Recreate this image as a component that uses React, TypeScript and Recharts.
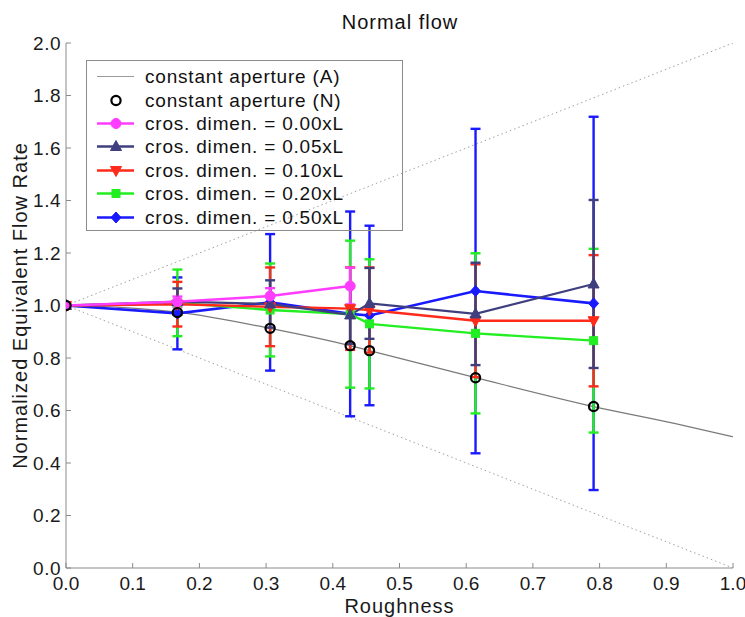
import React from 'react';
import { LineChart, Line, XAxis, YAxis, ErrorBar, Legend } from 'recharts';

// ---- data ----
const roughness = [0, 0.167, 0.306, 0.426, 0.455, 0.614, 0.791];
const xTicks = [0, 0.1, 0.2, 0.3, 0.4, 0.5, 0.6, 0.7, 0.8, 0.9, 1.0];
const yTicks = [0, 0.2, 0.4, 0.6, 0.8, 1.0, 1.2, 1.4, 1.6, 1.8, 2.0];

// constant aperture (A) analytic curve
const analyticX = [0, 0.08, 0.167, 0.306, 0.426, 0.455, 0.614, 0.791, 0.912, 1.0];
const analyticY = [1.0, 0.993, 0.975, 0.913, 0.847, 0.828, 0.725, 0.615, 0.551, 0.5];

// bounds (dotted)
const upperBoundX = [0, 1];
const upperBoundY = [1, 2];
const lowerBoundX = [0, 1];
const lowerBoundY = [1, 0];

// constant aperture (N)
const numericY = [1.0, 0.973, 0.913, 0.847, 0.828, 0.725, 0.615];

// cros. dimen. series
const pinkX = [0, 0.167, 0.306, 0.426];
const pinkY = [1.0, 1.014, 1.036, 1.074];
const pinkErr = [0, 0.02, 0.03, 0.07];

const navyY = [1.0, 1.015, 1.006, 0.964, 1.008, 0.968, 1.082];
const navyErr = [0, 0.05, 0.09, 0.11, 0.135, 0.195, 0.32];

const redY = [1.0, 1.005, 0.995, 0.988, 0.983, 0.942, 0.942];
const redErr = [0, 0.085, 0.15, 0.157, 0.162, 0.215, 0.25];

const greenY = [1.0, 1.01, 0.983, 0.967, 0.93, 0.894, 0.866];
const greenErr = [0, 0.127, 0.177, 0.28, 0.246, 0.305, 0.35];

const blueY = [1.0, 0.97, 1.012, 0.968, 0.962, 1.055, 1.008];
const blueErr = [0, 0.137, 0.26, 0.39, 0.342, 0.618, 0.711];

const legendLabels = [
  'constant aperture (A)',
  'constant aperture (N)',
  'cros. dimen. = 0.00xL',
  'cros. dimen. = 0.05xL',
  'cros. dimen. = 0.10xL',
  'cros. dimen. = 0.20xL',
  'cros. dimen. = 0.50xL',
];

// ---- build tables ----
const zip = (xs: number[], ys: number[], es?: number[]) =>
  xs.map((x, i) => ({ x, y: ys[i], e: es ? es[i] : 0 }));

const analyticData = zip(analyticX, analyticY);
const upperData = zip(upperBoundX, upperBoundY);
const lowerData = zip(lowerBoundX, lowerBoundY);
const numericData = zip(roughness, numericY);
const pinkData = zip(pinkX, pinkY, pinkErr);
const navyData = zip(roughness, navyY, navyErr);
const redData = zip(roughness, redY, redErr);
const greenData = zip(roughness, greenY, greenErr);
const blueData = zip(roughness, blueY, blueErr);

const C = {
  pink: '#ff3cff',
  navy: '#3f3f80',
  red: '#ff2a1a',
  green: '#22ee22',
  blue: '#1a1aff',
  gray: '#7a7a7a',
};

const FONT = 'Arial, "Liberation Sans", Helvetica, sans-serif';

type Shape = 'circle' | 'tri' | 'triDown' | 'square' | 'diamond' | 'hollow';

const marker = (shape: Shape, color: string, cx: number, cy: number, key?: any) => {
  switch (shape) {
    case 'circle':
      return <circle key={key} cx={cx} cy={cy} r={5} fill={color} stroke={color} />;
    case 'tri':
      return (
        <polygon key={key} points={`${cx},${cy - 6} ${cx - 5.5},${cy + 4} ${cx + 5.5},${cy + 4}`} fill={color} stroke={color} />
      );
    case 'triDown':
      return (
        <polygon key={key} points={`${cx},${cy + 6} ${cx - 5.5},${cy - 4} ${cx + 5.5},${cy - 4}`} fill={color} stroke={color} />
      );
    case 'square':
      return <rect key={key} x={cx - 4} y={cy - 4} width={8} height={8} fill={color} stroke={color} />;
    case 'diamond':
      return (
        <polygon key={key} points={`${cx},${cy - 5.5} ${cx + 5},${cy} ${cx},${cy + 5.5} ${cx - 5},${cy}`} fill={color} stroke={color} />
      );
    case 'hollow':
      return <circle key={key} cx={cx} cy={cy} r={4.6} fill="none" stroke="#000" strokeWidth={2.2} />;
  }
  return null;
};

const dotRenderer = (shape: Shape, color: string) => (props: any) => {
  const { cx, cy, index } = props;
  if (cx == null || cy == null) return <g key={index} />;
  return marker(shape, color, cx, cy, index);
};

const legendSymbols: { line: string | null; shape: Shape | null; color: string }[] = [
  { line: '#9a9a9a', shape: null, color: '#9a9a9a' },
  { line: null, shape: 'hollow', color: '#000' },
  { line: C.pink, shape: 'circle', color: C.pink },
  { line: C.navy, shape: 'tri', color: C.navy },
  { line: C.red, shape: 'triDown', color: C.red },
  { line: C.green, shape: 'square', color: C.green },
  { line: C.blue, shape: 'diamond', color: C.blue },
];

const LegendBox = () => (
  <div
    style={{
      width: 315,
      height: 165,
      border: '1px solid #8c8c8c',
      background: 'transparent',
      boxSizing: 'content-box',
      paddingTop: 4,
      fontFamily: FONT,
      fontSize: 19,
      letterSpacing: 0.8,
      color: '#111',
    }}
  >
    {legendLabels.map((label, i) => {
      const s = legendSymbols[i];
      return (
        <div key={label} style={{ height: 23.4, display: 'flex', alignItems: 'center' }}>
          <svg width={58} height={23} style={{ flex: 'none' }}>
            {s.line && (
              <line x1={10} x2={47} y1={11.5} y2={11.5} stroke={s.line} strokeWidth={i === 0 ? 1 : 2.5} />
            )}
            {s.shape && marker(s.shape, s.color, 29, 11.5)}
          </svg>
          <span style={{ whiteSpace: 'nowrap', lineHeight: '23px' }}>{label}</span>
        </div>
      );
    })}
  </div>
);

export default function App() {
  return (
    <div style={{ position: 'absolute', left: 0, top: 0, width: 745, height: 617, background: '#fff' }}>
      <div
        style={{
          position: 'absolute',
          left: 300,
          top: 10,
          width: 200,
          textAlign: 'center',
          fontFamily: FONT,
          fontSize: 20,
          letterSpacing: 1,
          lineHeight: '24px',
          color: '#111',
        }}
      >
        Normal flow
      </div>
      <LineChart width={745} height={617} margin={{ top: 43, right: 12, bottom: 0, left: 0 }}>
        <XAxis
          dataKey="x"
          type="number"
          domain={[0, 1]}
          ticks={xTicks}
          interval={0}
          allowDataOverflow
          tickFormatter={(v: number) => v.toFixed(1)}
          tickSize={-5}
          tickMargin={14}
          height={49}
          axisLine={{ stroke: '#8a8a8a' }}
          tickLine={{ stroke: '#8a8a8a' }}
          tick={{ fill: '#1a1a1a', fontSize: 19, fontFamily: FONT }}
          label={{
            value: 'Roughness',
            position: 'insideBottom',
            offset: 4,
            style: { fontSize: 20, fontFamily: FONT, letterSpacing: 1, fill: '#1a1a1a' },
          }}
        />
        <YAxis
          dataKey="y"
          type="number"
          domain={[0, 2]}
          ticks={yTicks}
          interval={0}
          allowDataOverflow
          tickFormatter={(v: number) => v.toFixed(1)}
          tickSize={-5}
          tickMargin={10}
          width={66}
          axisLine={{ stroke: '#8a8a8a' }}
          tickLine={{ stroke: '#8a8a8a' }}
          tick={{ fill: '#1a1a1a', fontSize: 19, fontFamily: FONT, letterSpacing: 0.5 }}
          label={{
            value: 'Normalized Equivalent Flow Rate',
            angle: -90,
            position: 'insideLeft',
            offset: 20,
            style: { fontSize: 20, fontFamily: FONT, letterSpacing: 1, fill: '#1a1a1a', textAnchor: 'middle' },
          }}
        />
        <Legend
          layout="vertical"
          align="center"
          verticalAlign="middle"
          content={() => <LegendBox />}
          wrapperStyle={{ position: 'absolute', left: 86, top: 60, width: 317, height: 171, pointerEvents: 'none' }}
        />
        <Line
          data={upperData}
          dataKey="y"
          stroke="#a0a0a0"
          strokeWidth={1}
          strokeDasharray="1.5 3"
          dot={false}
          isAnimationActive={false}
        />
        <Line
          data={lowerData}
          dataKey="y"
          stroke="#a0a0a0"
          strokeWidth={1}
          strokeDasharray="1.5 3"
          dot={false}
          isAnimationActive={false}
        />
        <Line
          data={analyticData}
          dataKey="y"
          type="monotone"
          stroke={C.gray}
          strokeWidth={1.2}
          dot={false}
          isAnimationActive={false}
        />
        <Line
          data={blueData}
          dataKey="y"
          stroke={C.blue}
          strokeWidth={2.6}
          dot={dotRenderer('diamond', C.blue)}
          isAnimationActive={false}
        >
          <ErrorBar dataKey="e" width={5} stroke={C.blue} strokeWidth={2.4} direction="y" />
        </Line>
        <Line
          data={greenData}
          dataKey="y"
          stroke={C.green}
          strokeWidth={2.4}
          dot={dotRenderer('square', C.green)}
          isAnimationActive={false}
        >
          <ErrorBar dataKey="e" width={5} stroke={C.green} strokeWidth={2.4} direction="y" />
        </Line>
        <Line
          data={redData}
          dataKey="y"
          stroke={C.red}
          strokeWidth={2.4}
          dot={dotRenderer('triDown', C.red)}
          isAnimationActive={false}
        >
          <ErrorBar dataKey="e" width={5} stroke={C.red} strokeWidth={2.4} direction="y" />
        </Line>
        <Line
          data={navyData}
          dataKey="y"
          stroke={C.navy}
          strokeWidth={2.2}
          dot={dotRenderer('tri', C.navy)}
          isAnimationActive={false}
        >
          <ErrorBar dataKey="e" width={5} stroke={C.navy} strokeWidth={2.4} direction="y" />
        </Line>
        <Line
          data={pinkData}
          dataKey="y"
          stroke={C.pink}
          strokeWidth={2.6}
          dot={dotRenderer('circle', C.pink)}
          isAnimationActive={false}
        >
          <ErrorBar dataKey="e" width={5} stroke={C.pink} strokeWidth={2.4} direction="y" />
        </Line>
        <Line
          data={numericData}
          dataKey="y"
          stroke="none"
          strokeWidth={0}
          dot={dotRenderer('hollow', '#000')}
          isAnimationActive={false}
        />
      </LineChart>
    </div>
  );
}
